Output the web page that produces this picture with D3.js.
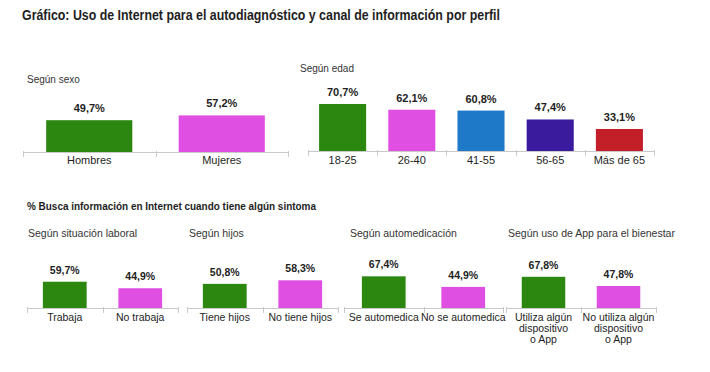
<!DOCTYPE html>
<html>
<head>
<meta charset="utf-8">
<script src="https://cdn.jsdelivr.net/npm/d3@7"></script>
<style>
  body { margin: 0; background: #fff; }
  text { font-family: "Liberation Sans", Arial, sans-serif; fill: #1e1e1e; }
</style>
</head>
<body>
<div id="chart"></div>
<script>
  // data
  const sexoCats = ["Hombres", "Mujeres"];
  const sexoVals = [49.7, 57.2];
  const edadCats = ["18-25", "26-40", "41-55", "56-65", "Más de 65"];
  const edadVals = [70.7, 62.1, 60.8, 47.4, 33.1];
  const laboralCats = ["Trabaja", "No trabaja"];
  const laboralVals = [59.7, 44.9];
  const hijosCats = ["Tiene hijos", "No tiene hijos"];
  const hijosVals = [50.8, 58.3];
  const autoCats = ["Se automedica", "No se automedica"];
  const autoVals = [67.4, 44.9];
  const appCats = ["Utiliza algún\ndispositivo\no App", "No utiliza algún\ndispositivo\no App"];
  const appVals = [67.8, 47.8];

  const green = "#2b870f", magenta = "#df4fe2";
  const pairColors = [green, magenta];
  const edadColors = [green, magenta, "#1f79c9", "#3a1a9d", "#c21f29"];

  const width = 710, height = 372;
  const svg = d3.select("#chart").append("svg")
    .attr("width", width)
    .attr("height", height);

  svg.append("text")
    .attr("x", 22).attr("y", 20)
    .attr("font-size", 14.5)
    .attr("font-weight", "bold")
    .attr("textLength", 478)
    .attr("lengthAdjust", "spacingAndGlyphs")
    .text("Gráfico: Uso de Internet para el autodiagnóstico y canal de información por perfil");

  svg.append("text")
    .attr("x", 27).attr("y", 210)
    .attr("font-size", 10.5)
    .attr("font-weight", "bold")
    .attr("textLength", 289)
    .attr("lengthAdjust", "spacingAndGlyphs")
    .text("% Busca información en Internet cuando tiene algún sintoma");

  function panel(o) {
    const g = svg.append("g");
    const x = d3.scaleBand()
      .domain(o.cats)
      .range([o.x0, o.x1])
      .paddingInner(o.pad)
      .paddingOuter(o.pad / 2);
    const y = d3.scaleLinear().domain([0, 100]).range([o.base, o.base - o.full]);

    g.append("text")
      .attr("x", o.tx).attr("y", o.ty)
      .attr("font-size", o.tsize)
      .style("fill", "#333")
      .text(o.title);

    // axis line with dividers
    g.append("line")
      .attr("x1", o.x0).attr("x2", o.x1)
      .attr("y1", o.base + 0.5).attr("y2", o.base + 0.5)
      .attr("stroke", "#c9c9c9");
    const step = x.step();
    d3.range(o.cats.length + 1).forEach(i => {
      const xx = Math.round(o.x0 + i * step) + 0.5;
      g.append("line")
        .attr("x1", xx).attr("x2", xx)
        .attr("y1", o.base - 1).attr("y2", o.base + 5)
        .attr("stroke", "#c9c9c9");
    });

    g.selectAll("rect.bar")
      .data(o.vals)
      .enter().append("rect")
      .attr("class", "bar")
      .attr("x", (d, i) => x(o.cats[i]))
      .attr("width", x.bandwidth())
      .attr("y", d => y(d))
      .attr("height", d => o.base - y(d))
      .attr("fill", (d, i) => o.colors[i]);

    g.selectAll("text.val")
      .data(o.vals)
      .enter().append("text")
      .attr("class", "val")
      .attr("x", (d, i) => x(o.cats[i]) + x.bandwidth() / 2)
      .attr("y", d => y(d) - 8)
      .attr("text-anchor", "middle")
      .attr("font-size", o.vsize)
      .attr("font-weight", "bold")
      .text(d => d.toFixed(1).replace(".", ",") + "%");

    o.cats.forEach((c, i) => {
      const t = g.append("text")
        .attr("x", x(c) + x.bandwidth() / 2)
        .attr("y", o.base + o.ly)
        .attr("text-anchor", "middle")
        .attr("font-size", o.lsize);
      c.split("\n").forEach((line, j) => {
        t.append("tspan")
          .attr("x", x(c) + x.bandwidth() / 2)
          .attr("dy", j === 0 ? 0 : 10.8)
          .text(line);
      });
    });
  }

  panel({ title: "Según sexo", tx: 27, ty: 83, tsize: 10, cats: sexoCats, vals: sexoVals, colors: pairColors,
          x0: 23, x1: 288, base: 152, full: 64, pad: 0.35, vsize: 11, lsize: 11, ly: 12 });
  panel({ title: "Según edad", tx: 300, ty: 72, tsize: 10, cats: edadCats, vals: edadVals, colors: edadColors,
          x0: 308, x1: 654, base: 151, full: 66.5, pad: 0.32, vsize: 11, lsize: 11, ly: 13 });
  panel({ title: "Según situación laboral", tx: 28, ty: 237, tsize: 10.5, cats: laboralCats, vals: laboralVals, colors: pairColors,
          x0: 27, x1: 178, base: 308, full: 44, pad: 0.42, vsize: 10.5, lsize: 10.5, ly: 13 });
  panel({ title: "Según hijos", tx: 189, ty: 237, tsize: 10.5, cats: hijosCats, vals: hijosVals, colors: pairColors,
          x0: 187, x1: 338, base: 308, full: 47.5, pad: 0.42, vsize: 10.5, lsize: 10.5, ly: 13 });
  panel({ title: "Según automedicación", tx: 350, ty: 237, tsize: 10.5, cats: autoCats, vals: autoVals, colors: pairColors,
          x0: 344, x1: 503, base: 308, full: 47, pad: 0.45, vsize: 10.5, lsize: 10.5, ly: 13 });
  panel({ title: "Según uso de App para el bienestar", tx: 508, ty: 237, tsize: 10.5, cats: appCats, vals: appVals, colors: pairColors,
          x0: 506, x1: 656, base: 308, full: 46, pad: 0.42, vsize: 10.5, lsize: 10.5, ly: 13 });
</script>
</body>
</html>
